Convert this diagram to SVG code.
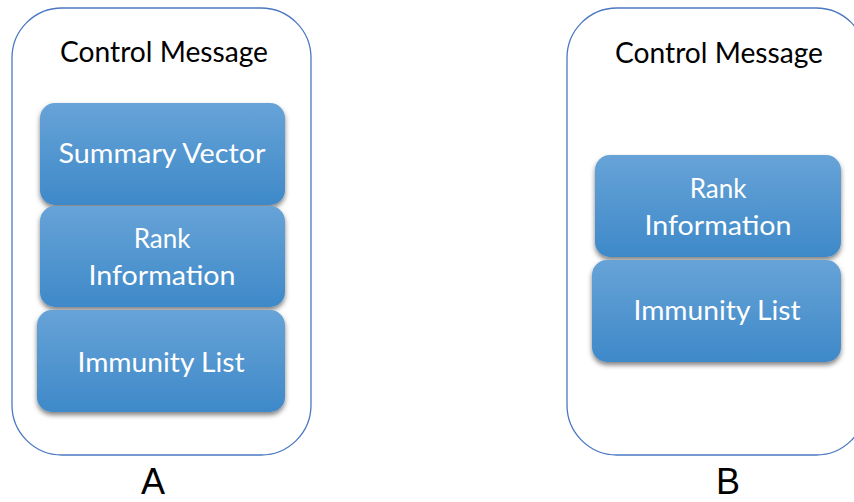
<svg xmlns="http://www.w3.org/2000/svg" width="854" height="502" viewBox="0 0 854 502">
<defs>
<linearGradient id="g" x1="0" y1="0" x2="0" y2="1">
<stop offset="0" stop-color="#67a3d7"/>
<stop offset="1" stop-color="#3e89c9"/>
</linearGradient>
<filter id="sh" x="-10%" y="-10%" width="120%" height="130%">
<feDropShadow dx="0" dy="3" stdDeviation="2.5" flood-color="#000" flood-opacity="0.5"/>
</filter>
<style>
.cont{fill:#fff;stroke:#4a78c2;stroke-width:1.3}
.box{fill:url(#g);filter:url(#sh)}
.t{font-family:Lato,"Open Sans","Liberation Sans",sans-serif;text-anchor:middle}
.title{font-size:28px;fill:#000}
.bt{font-size:26px;fill:#fff}
.lab{font-size:36px;fill:#000;font-family:"Liberation Sans",Arial,sans-serif;text-anchor:middle}
</style>
</defs>
<rect width="854" height="502" fill="#fff"/>
<g id="containerA">
<rect class="cont" x="12" y="8" width="299" height="447" rx="50" ry="50"/>
<text class="t title" x="164" y="62" textLength="208" lengthAdjust="spacingAndGlyphs">Control Message</text>
</g>
<g id="A-summary">
<rect class="box" x="40" y="103" width="245" height="102" rx="15"/>
<text class="t bt" x="162" y="163" textLength="207" lengthAdjust="spacingAndGlyphs">Summary Vector</text>
</g>
<g id="A-rank">
<rect class="box" x="40" y="206" width="245" height="101" rx="15"/>
<text class="t bt" x="162" y="248">Rank</text>
<text class="t bt" x="162" y="285" textLength="147" lengthAdjust="spacingAndGlyphs">Information</text>
</g>
<g id="A-immunity">
<rect class="box" x="37" y="310" width="248" height="102" rx="15"/>
<text class="t bt" x="161" y="372" textLength="167" lengthAdjust="spacingAndGlyphs">Immunity List</text>
</g>
<text class="lab" x="153" y="494">A</text>
<g id="containerB">
<rect class="cont" x="567" y="8" width="299" height="447" rx="50" ry="50"/>
<text class="t title" x="719" y="63" textLength="208" lengthAdjust="spacingAndGlyphs">Control Message</text>
</g>
<g id="B-rank">
<rect class="box" x="595" y="155" width="246" height="102" rx="15"/>
<text class="t bt" x="718" y="198">Rank</text>
<text class="t bt" x="718" y="235" textLength="147" lengthAdjust="spacingAndGlyphs">Information</text>
</g>
<g id="B-immunity">
<rect class="box" x="592" y="260" width="249" height="102" rx="15"/>
<text class="t bt" x="717" y="320" textLength="167" lengthAdjust="spacingAndGlyphs">Immunity List</text>
</g>
<text class="lab" x="728" y="494">B</text>
<g id="connectors"></g>
</svg>
